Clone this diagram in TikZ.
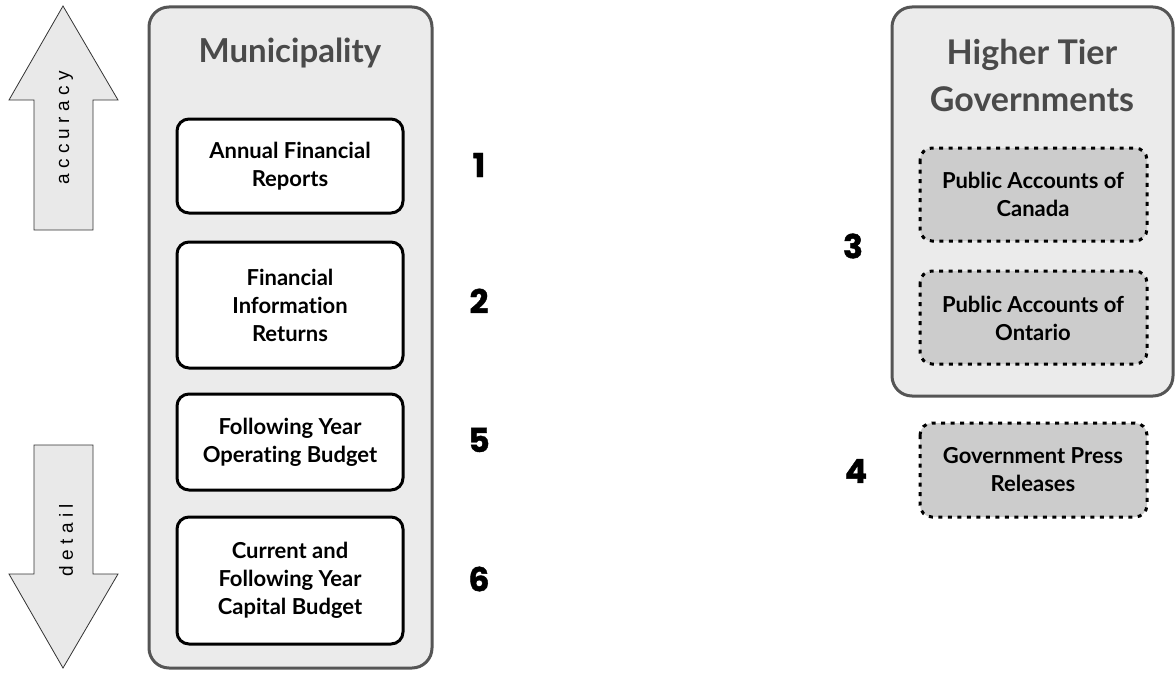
\documentclass[tikz,border=0pt]{standalone}
\usepackage{fontspec}
\setmainfont{Lato}[Ligatures=NoCommon]
\newfontfamily\numfont{Poppins}[BoldFeatures={FakeBold=1.2}]
\newfontfamily\arrowfont{Liberation Sans}[LetterSpace=28]
\definecolor{panelfill}{HTML}{EBEBEB}
\definecolor{panelline}{HTML}{555555}
\definecolor{titlegray}{HTML}{4A4A4A}
\definecolor{dashfill}{HTML}{CCCCCC}
\definecolor{arrowfill}{HTML}{E9E9E9}
\tikzset{
  panel/.style={draw=panelline, line width=3pt, fill=panelfill, rounded corners=20pt},
  paneltitle/.style={text=titlegray, font=\fontsize{33}{47}\selectfont\bfseries, align=center},
  docbox/.style={draw=black, line width=3pt, fill=white, rounded corners=12pt},
  extbox/.style={draw=black, line width=3pt, fill=dashfill, rounded corners=12pt, dash pattern=on 4pt off 5.5pt},
  boxtext/.style={font=\fontsize{22}{28}\selectfont\bfseries, align=center},
  num/.style={font=\fontsize{33}{36}\selectfont\numfont\bfseries},
  bigarrow/.style={draw=black!80, line width=0.8pt, fill=arrowfill},
  arrowtext/.style={rotate=90, font=\fontsize{19}{22}\selectfont\arrowfont}
}
\begin{document}
\begin{tikzpicture}[x=1pt,y=-1pt]
\useasboundingbox (0,0) rectangle (1175,677);
% arrows
\draw[bigarrow] (63,6) -- (118,100) -- (93,100) -- (93,230) -- (34,230) -- (34,100) -- (9,100) -- cycle;
\node[arrowtext] (acc) at (66,128) {accuracy};
\draw[bigarrow] (63,668) -- (118,574) -- (93,574) -- (93,445) -- (34,445) -- (34,574) -- (9,574) -- cycle;
\node[arrowtext] (det) at (66,540) {detail};
% municipality panel
\path[panel] (149,7) rectangle (432,668);
\node[paneltitle] (mun) at (290,53) {Municipality};
\path[docbox] (177,119) rectangle (403,213);
\node[boxtext] (afr) at (290,166) {Annual Financial\\Reports};
\path[docbox] (177,242) rectangle (403,368);
\node[boxtext] (fir) at (290,305) {Financial\\Information\\Returns};
\path[docbox] (177,394) rectangle (403,490);
\node[boxtext] (fyob) at (290,442) {Following Year\\Operating Budget};
\path[docbox] (177,517) rectangle (403,644);
\node[boxtext] (cfcb) at (290,580) {Current and\\Following Year\\Capital Budget};
\node[num] (n1) at (479,165) {1};
\node[num] (n2) at (479,301) {2};
\node[num] (n5) at (479,440) {5};
\node[num] (n6) at (479,579) {6};
% higher tier
\path[panel] (892,7) rectangle (1173,396);
\node[paneltitle, font=\fontsize{34}{47}\selectfont\bfseries] (htg) at (1032,76) {Higher Tier\\Governments};
\path[extbox] (920,148) rectangle (1147,241);
\node[boxtext] (pac) at (1033,194) {Public Accounts of\\Canada};
\path[extbox] (920,271) rectangle (1147,364);
\node[boxtext] (pao) at (1033,318) {Public Accounts of\\Ontario};
\path[extbox] (920,423) rectangle (1147,517);
\node[boxtext] (gpr) at (1033,470) {Government Press\\Releases};
\node[num] (n3) at (853,246) {3};
\node[num] (n4) at (856,471) {4};
\end{tikzpicture}
\end{document}
